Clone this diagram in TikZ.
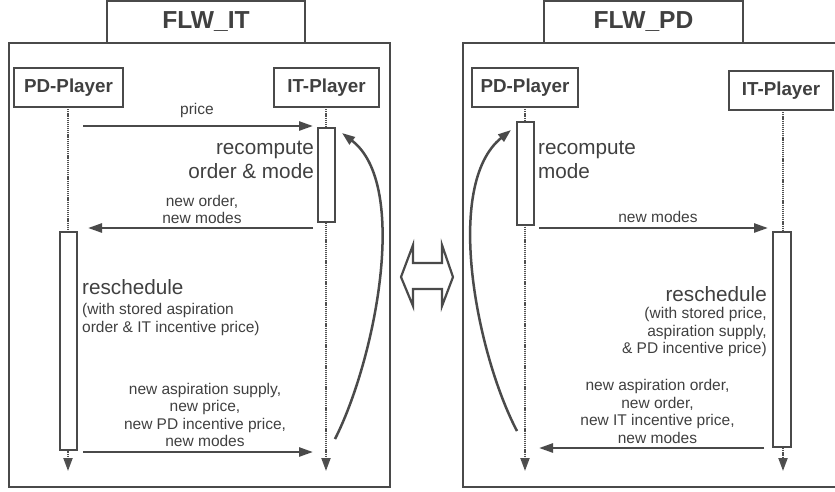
\documentclass[tikz,border=0pt]{standalone}
\usepackage{fontspec}
\setmainfont{Liberation Sans}
\usetikzlibrary{arrows.meta}
\definecolor{ln}{HTML}{4A4A4A}
\definecolor{tx}{HTML}{404040}
\definecolor{ll}{HTML}{505050}
\tikzset{
  frame/.style={draw=ln, line width=2.4pt},
  titlebox/.style={draw=ln, line width=2.4pt, fill=white},
  titletext/.style={text=tx, font=\fontsize{24.6}{28}\selectfont\bfseries, inner sep=0pt},
  playerbox/.style={draw=ln, line width=2.4pt, fill=white},
  playertext/.style={text=tx, font=\fontsize{18.8}{22}\selectfont\bfseries, inner sep=0pt},
  actbox/.style={draw=ln, line width=2.2pt, fill=white},
  lifeline/.style={draw=ll, line width=2pt, dash pattern=on 1.2pt off 0.9pt, -{Triangle[length=13pt,width=9pt,fill=ln]}},
  msg/.style={draw=ln, line width=2.5pt, -{Triangle[length=14pt,width=9pt]}},
  loopback/.style={draw=ln, line width=2.5pt, -{Triangle[length=13pt,width=9pt]}},
  small/.style={text=tx, font=\fontsize{15.5}{17.4}\selectfont, inner sep=0pt},
  big/.style={text=tx, font=\fontsize{20.7}{24}\selectfont, inner sep=0pt},
}
\begin{document}
\begin{tikzpicture}[x=1pt,y=-1pt]
\useasboundingbox (0,0) rectangle (835,491);

% ================= LEFT PANEL: FLW_IT =================
\draw[frame] (9,43) rectangle (390,487);
\draw[titlebox] (107,1) rectangle (305,43);
\node[titletext] (tIT) at (206,22) {FLW\_IT};

\draw[playerbox] (14,68) rectangle (123,107);
\node[playertext] (pdL) at (68.5,87.5) {PD-Player};
\draw[playerbox] (274,68) rectangle (379,107);
\node[playertext] (itL) at (326.5,87.5) {IT-Player};

\coordinate (pdLtop) at (68,107);
\coordinate (pdLend) at (68,471);
\coordinate (itLtop) at (326,107);
\coordinate (itLend) at (326,471);
\draw[lifeline] (pdLtop) -- (pdLend);
\draw[lifeline] (itLtop) -- (itLend);

\node[actbox, minimum width=17pt, minimum height=94pt, inner sep=0pt] (actITL) at (326.5,175) {};
\node[actbox, minimum width=17pt, minimum height=218pt, inner sep=0pt] (actPDL) at (68.5,341) {};

% price
\coordinate (m1s) at (83,126);
\coordinate (m1e) at (313,126);
\draw[msg] (m1s) -- (m1e);
\node[small] (lprice) at (197,110) {price};

\node[big, align=right, anchor=east] (recL) at (314,160) {recompute\\order \& mode};

% new order, new modes
\coordinate (m2s) at (313,228);
\coordinate (m2e) at (88,228);
\draw[msg] (m2s) -- (m2e);
\node[small, align=center] (lno) at (202,209.5) {new order,\\new modes};

\node[big, anchor=west] (reschL) at (82,287) {reschedule};
\node[small, align=left, anchor=west] (reschLsub) at (82,319.5) {(with stored aspiration\\order \& IT incentive price)};

% bottom message
\coordinate (m3s) at (83,452);
\coordinate (m3e) at (313,452);
\draw[msg] (m3s) -- (m3e);
\node[small, align=center] (lbot) at (205,415) {new aspiration supply,\\new price,\\new PD incentive price,\\new modes};

% loop back
\coordinate (lbL1) at (335,439);
\coordinate (lbL2) at (342,133);
\draw[loopback] (lbL1) .. controls (375,360) and (410,185) .. (lbL2);

% ================= MIDDLE DOUBLE ARROW =================
\draw[draw=ln, line width=2.2pt, line join=miter] (401,277) -- (413,245) -- (413,263) -- (442,263) -- (442,245) -- (453,277) -- (442,306) -- (442,289) -- (413,289) -- (413,306) -- cycle;

% ================= RIGHT PANEL: FLW_PD =================
\draw[frame] (463,43) rectangle (838,487);
\draw[titlebox] (544,1) rectangle (743,43);
\node[titletext] (tPD) at (643.5,22) {FLW\_PD};

\draw[playerbox] (472,68) rectangle (578,107);
\node[playertext] (pdR) at (525,87.5) {PD-Player};
\draw[playerbox] (729,71) rectangle (833,110);
\node[playertext] (itR) at (781,90.5) {IT-Player};

\coordinate (pdRtop) at (525,107);
\coordinate (pdRend) at (525,471);
\coordinate (itRtop) at (783,110);
\coordinate (itRend) at (783,471);
\draw[lifeline] (pdRtop) -- (pdRend);
\draw[lifeline] (itRtop) -- (itRend);

\node[actbox, minimum width=17pt, minimum height=103pt, inner sep=0pt] (actPDR) at (525.5,173.5) {};
\node[actbox, minimum width=18pt, minimum height=215pt, inner sep=0pt] (actITR) at (782,339.5) {};

\node[big, align=left, anchor=west] (recR) at (538,160) {recompute\\mode};

% new modes
\coordinate (r1s) at (539,228);
\coordinate (r1e) at (768,228);
\draw[msg] (r1s) -- (r1e);
\node[small] (lnm) at (658,217) {new modes};

\node[big, anchor=east] (reschR) at (767,294) {reschedule};
\node[small, align=right, anchor=east] (reschRsub) at (767,332) {(with stored price,\\aspiration supply,\\\& PD incentive price)};

% bottom message
\coordinate (r2s) at (764,448);
\coordinate (r2e) at (539,448);
\draw[msg] (r2s) -- (r2e);
\node[small, align=center] (rbot) at (657.5,411.5) {new aspiration order,\\new order,\\new IT incentive price,\\new modes};

% loop back
\coordinate (lbR1) at (517,431);
\coordinate (lbR2) at (511,130);
\draw[loopback] (lbR1) .. controls (477,355) and (443,185) .. (lbR2);
\end{tikzpicture}
\end{document}
